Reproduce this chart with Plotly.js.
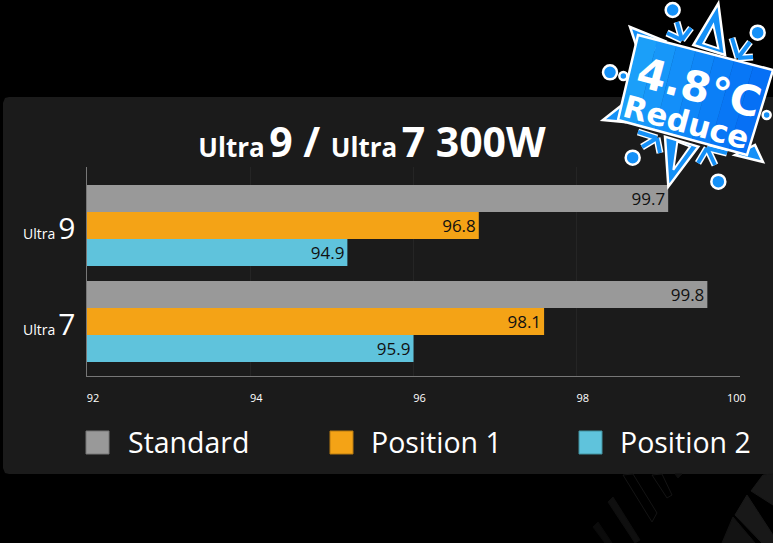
<!DOCTYPE html>
<html><head><meta charset="utf-8">
<script src="https://cdn.plot.ly/plotly-3.0.1.min.js"></script>
<style>html,body{margin:0;padding:0;background:#000;overflow:hidden}</style>
</head><body><div id="chart" style="width:773px;height:543px"></div>
<script>
const categories = ['Ultra 9', 'Ultra 7'];
const seriesNames = ['Standard', 'Position 1', 'Position 2'];
const barLengths = [[99.12, 99.6], [96.8, 97.6], [95.19, 96.0]];
const printedValues = [['99.7', '99.8'], ['96.8', '98.1'], ['94.9', '95.9']];
const colors = ['#999999', '#f4a316', '#5fc3dc'];
const tickVals = [92, 94, 96, 98, 100];
const W = 773, H = 543, mL = 87, mR = 33, mT = 167, mB = 167;
const fx = p => (p - mL) / (W - mL - mR), fy = p => 1 - (p - mT) / (H - mT - mB);
const font = '"Open Sans","Noto Sans",sans-serif';
const P = (pts, close = true) => pts.map((q, i) => (i ? 'L' : 'M') + fx(q[0]).toFixed(5) + ',' + fy(q[1]).toFixed(5)).join(' ') + (close ? ' Z' : '');
const pathShape = (pts, fill, lineColor, w, close = true) => ({type: 'path', xref: 'paper', yref: 'paper', path: P(pts, close), fillcolor: fill, line: {color: lineColor, width: w}});
const rect = (x0, y0, x1, y1, fill, lineColor) => ({type: 'rect', xref: 'paper', yref: 'paper', x0: fx(x0), x1: fx(x1), y0: fy(y0), y1: fy(y1), fillcolor: fill, line: {color: lineColor || fill, width: 1}, layer: 'above'});
const blue = '#1490f7';
const circle = (cx, cy, r) => ({type: 'circle', xref: 'paper', yref: 'paper', x0: fx(cx - r), x1: fx(cx + r), y0: fy(cy + r), y1: fy(cy - r), fillcolor: blue, line: {color: '#fff', width: 2.5}});
const z = (x, y) => [590 + x / 3, y / 3];
const none = 'rgba(0,0,0,0)';

const traces = seriesNames.map((name, i) => ({
  type: 'bar', orientation: 'h', name, y: categories, x: barLengths[i], text: printedValues[i],
  textposition: 'inside', insidetextanchor: 'end', constraintext: 'none',
  textfont: {family: font, size: 17, color: '#111'}, marker: {color: colors[i], line: {width: 0}}, hoverinfo: 'skip'
}));

const panel = {type: 'path', xref: 'paper', yref: 'paper', layer: 'below', fillcolor: '#1b1b1b', line: {width: 0},
  path: P([[3, 103], [5, 98], [9, 97], [773, 97], [773, 474], [9, 474], [5, 473], [3, 468]])};

const texture = [
  pathShape([[623, 475], [633, 474], [657, 513], [652, 522]], none, '#141414', 1),
  pathShape([[652, 475], [662, 474], [672, 495], [667, 498]], none, '#141414', 1),
  pathShape([[608, 502], [613, 497], [640, 540], [635, 543]], '#0f0f0f', '#0f0f0f', 1),
  pathShape([[593, 527], [598, 522], [612, 543], [605, 543]], '#0b0b0b', '#0b0b0b', 1),
  pathShape([[675, 474], [682, 474], [678, 478]], '#0f0f0f', '#0f0f0f', 1),
  pathShape([[763, 475], [773, 474], [773, 505], [751, 491]], '#181818', '#181818', 1),
  pathShape([[747, 495], [773, 535], [773, 543], [762, 543], [735, 515]], '#181818', '#181818', 1),
  pathShape([[733, 517], [755, 543], [722, 543]], '#131313', '#131313', 1)
];

const trident = (base, prongs) => {
  const segs = col => prongs.map(p => ({...pathShape([base, p], none, col, col === '#fff' ? 7 : 4, false)}));
  return [...segs('#fff'), ...segs(blue)];
};

// badge panel shaded in bands from light to deep blue
const tl = [638, 35], tr = [773, 70], br = [747, 155], bl = [618, 120];
const mix = (a, b, t) => [a[0] + (b[0] - a[0]) * t, a[1] + (b[1] - a[1]) * t];
const bandCols = ['#1b9ff9', '#1797f9', '#138ff9', '#0f87f8', '#0b7ff7', '#0877f6', '#0670f5'];
const bands = bandCols.map((c, i) => {
  const t0 = i / bandCols.length, t1 = (i + 1) / bandCols.length;
  return pathShape([mix(tl, tr, t0), mix(tl, tr, t1), mix(bl, br, t1), mix(bl, br, t0)], c, c, 0.5);
});

const flake = [
  pathShape([[630, 27], [665, 41], [641, 60]], blue, '#fff', 2.5),
  pathShape([[603, 120], [622, 105], [625, 122]], blue, '#fff', 2.5),
  pathShape([[763, 162], [755, 145], [735, 155]], blue, '#fff', 2.5),
  pathShape([z(385, 10), z(310, 135), z(405, 165)], blue, '#fff', 2.5),
  pathShape([z(370, 75), z(340, 130), z(385, 145)], '#000', '#fff', 2),
  pathShape([z(235, 560), z(225, 410), z(325, 440)], blue, '#fff', 2.5),
  pathShape([z(262, 425), z(250, 510), z(300, 440)], '#1b1b1b', '#fff', 2),
  ...trident([682, 40], [[667, 33], [677, 22], [691, 28]]),
  ...trident([738, 58], [[732, 38], [750, 42], [753, 57]]),
  ...trident([657, 138], [[638, 132], [642, 147], [660, 153]]),
  ...trident([707, 148], [[698, 163], [715, 165], [727, 153]]),
  circle(...z(248, 30), 7), circle(...z(503, 98), 7), circle(...z(60, 217), 7), circle(...z(128, 473), 7), circle(...z(385, 545), 7),
  circle(...z(100, 228), 4), circle(...z(530, 345), 4),
  ...bands,
  pathShape([tl, tr, br, bl], none, '#fff', 2.5)
];

const legendX = [86, 330, 579];
const legendTextX = [126, 369, 618];
const legendShapes = seriesNames.map((n, i) => rect(legendX[i], 431, legendX[i] + 23, 454, colors[i], i === 0 ? '#777' : i === 1 ? '#b87a10' : '#43929f'));
const legendLabels = seriesNames.map((n, i) => ({xref: 'paper', yref: 'paper', x: fx(legendTextX[i]), y: fy(442), xanchor: 'left', yanchor: 'middle', showarrow: false, text: n, font: {family: font, size: 28.5, color: '#fff'}}));

const catLabels = categories.map((c, i) => {
  const [a, b] = c.split(' ');
  return {xref: 'paper', yref: 'paper', x: fx(78), y: fy(i ? 323 : 227), xanchor: 'right', yanchor: 'middle', showarrow: false,
    text: `<span style="font-size:14px">${a}</span> <span style="font-size:30px">${b}</span>`, font: {family: font, color: '#fff'}};
});

const layout = {
  width: W, height: H, margin: {l: mL, r: mR, t: mT, b: mB, pad: 0}, autosize: false,
  paper_bgcolor: '#000', plot_bgcolor: 'rgba(0,0,0,0)', barmode: 'group', bargap: 0.156, bargroupgap: 0, showlegend: false,
  xaxis: {range: [92, 100], tickvals: tickVals, ticktext: tickVals.map(v => v === 100 ? '' : String(v)), ticks: '', showline: true, linecolor: '#777', linewidth: 1, showgrid: true, gridcolor: '#252525', gridwidth: 1, zeroline: false,
    tickfont: {family: font, size: 11, color: '#fff'}, ticklabelstandoff: 12, ticklabelshift: 6},
  yaxis: {type: 'category', range: [1.568, -0.609], showticklabels: false, ticks: '', showline: true, linecolor: '#777', linewidth: 1, showgrid: false, zeroline: false},
  title: {text: '<b><span style="font-size:26px">Ultra</span> <span style="font-size:41px">9 / </span><span style="font-size:26px">Ultra</span> <span style="font-size:41px">7 300W</span></b>',
    font: {family: font, color: '#fff'}, x: 372 / W, xanchor: 'center', y: 1 - 151 / H, yanchor: 'middle'},
  shapes: [panel, ...texture, ...flake, ...legendShapes],
  annotations: [...catLabels, ...legendLabels,
    {xref: 'x', yref: 'paper', x: tickVals[4], y: fy(397), xanchor: 'center', yanchor: 'middle', xshift: -4, showarrow: false, text: String(tickVals[4]), font: {family: font, size: 11, color: '#fff'}},
    {xref: 'paper', yref: 'paper', x: fx(699), y: fy(87), xanchor: 'center', yanchor: 'middle', showarrow: false, text: '<b>4.8°C</b>', textangle: 15, font: {family: '"DejaVu Sans"', size: 42, color: '#fff'}},
    {xref: 'paper', yref: 'paper', x: fx(686), y: fy(122), xanchor: 'center', yanchor: 'middle', showarrow: false, text: '<b>Reduce</b>', textangle: 15, font: {family: '"DejaVu Sans"', size: 31, color: '#fff'}}
  ]
};
Plotly.newPlot('chart', traces, layout, {displayModeBar: false, staticPlot: true});
</script></body></html>
